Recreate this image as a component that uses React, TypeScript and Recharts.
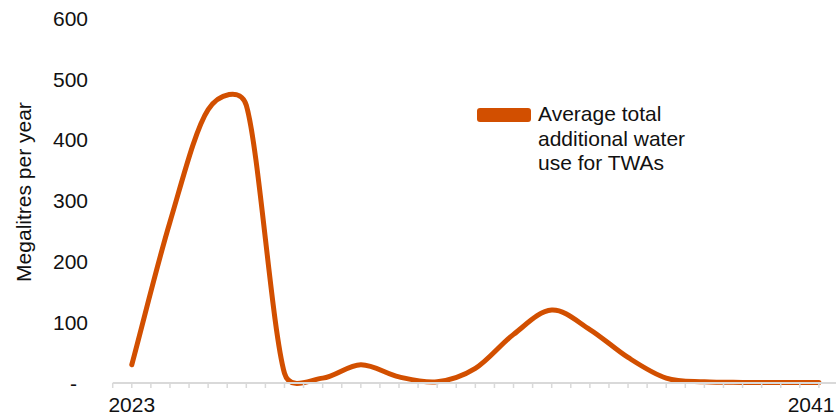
import React from 'react';
import { LineChart, Line, XAxis, YAxis, Legend } from 'recharts';

const years = [2023, 2024, 2025, 2026, 2027, 2028, 2029, 2030, 2031, 2032, 2033, 2034, 2035, 2036, 2037, 2038, 2039, 2040, 2041];
const waterUse = [30, 265, 450, 457, 16, 8, 30, 10, 2, 24, 80, 120, 88, 42, 8, 2, 1, 1, 1];
const yTicks = [0, 100, 200, 300, 400, 500, 600];
const xTicks = [2022.5, 2023, 2023.5, 2024, 2024.5, 2025, 2025.5, 2026, 2026.5, 2027, 2027.5, 2028, 2028.5, 2029, 2029.5, 2030, 2030.5, 2031, 2031.5, 2032, 2032.5, 2033, 2033.5, 2034, 2034.5, 2035, 2035.5, 2036, 2036.5, 2037, 2037.5, 2038, 2038.5, 2039, 2039.5, 2040, 2040.5, 2041, 2041.5];
const labelledYears = [2023, 2041];
const seriesName = 'Average total additional water use for TWAs';
const legendLines = ['Average total', 'additional water', 'use for TWAs'];
const yTitle = 'Megalitres per year';

const data = years.map((y, i) => ({ year: y, value: waterUse[i] }));

const FONT = '"Liberation Sans", Arial, sans-serif';
const COLOR = '#D24F00';

function excelSmooth(context: any) {
  let pts: number[][] = [];
  const dist = (a: number[], b: number[]) => Math.hypot(a[0] - b[0], a[1] - b[1]);
  return {
    areaStart() {},
    areaEnd() {},
    lineStart() { pts = []; },
    point(x: number, y: number) { pts.push([+x, +y]); },
    lineEnd() {
      const n = pts.length;
      if (!n) return;
      context.moveTo(pts[0][0], pts[0][1]);
      for (let i = 0; i < n - 1; i++) {
        const p1 = pts[i];
        const p2 = pts[i + 1];
        const first = i === 0;
        const last = i + 2 > n - 1;
        const p0 = first ? p1 : pts[i - 1];
        const p3 = last ? p2 : pts[i + 2];
        const d12 = dist(p1, p2);
        const d02 = dist(p0, p2);
        const d13 = dist(p1, p3);
        let f = first ? 1 / 3 : 1 / 6;
        let g = last ? 1 / 3 : 1 / 6;
        if (d02 > 0 && d02 * f > d12 / 2) f = d12 / (2 * d02);
        if (d13 > 0 && d13 * g > d12 / 2) g = d12 / (2 * d13);
        const c1x = p1[0] + (p2[0] - p0[0]) * f;
        const c1y = p1[1] + (p2[1] - p0[1]) * f;
        const c2x = p2[0] - (p3[0] - p1[0]) * g;
        const c2y = p2[1] - (p3[1] - p1[1]) * g;
        context.bezierCurveTo(c1x, c1y, c2x, c2y, p2[0], p2[1]);
      }
    },
  };
}

const YTick = (props: any) => {
  const { y, payload } = props;
  const v = payload.value;
  if (v === 0) {
    return <text x={77} y={y + 7.5} textAnchor="end" fontSize={21} fontFamily={FONT} fill="#111">-</text>;
  }
  return <text x={88} y={y + 7.5} textAnchor="end" fontSize={21} fontFamily={FONT} fill="#111">{v}</text>;
};

const XTick = (props: any) => {
  const { x, payload } = props;
  if (!labelledYears.includes(payload.value)) return <g />;
  const cx = Math.min(x, 811);
  return <text x={cx} y={412} textAnchor="middle" fontSize={21} fontFamily={FONT} fill="#111">{payload.value}</text>;
};

const YTitle = () => (
  <text x={31} y={192} transform="rotate(-90, 31, 192)" textAnchor="middle" fontSize={21} fontFamily={FONT} fill="#111">{yTitle}</text>
);

const LegendContent = () => (
  <div style={{ display: 'flex', alignItems: 'flex-start', fontFamily: FONT, fontSize: 21, lineHeight: '24.6px', color: '#111' }}>
    <div style={{ width: 54, height: 14, background: COLOR, borderRadius: 3, marginTop: 6, marginRight: 7 }} />
    <div>
      {legendLines.map((l) => <div key={l} style={{ whiteSpace: 'nowrap' }}>{l}</div>)}
    </div>
  </div>
);

export default function App() {
  return (
    <div style={{ position: 'absolute', left: 0, top: 0, width: 836, height: 416, overflow: 'hidden', background: '#fff' }}>
      <LineChart width={840} height={416} data={data} margin={{ top: 18.4, right: 2, bottom: 0, left: 0 }}>
        <XAxis
          dataKey="year"
          type="number"
          domain={[2022.5, 2041.5]}
          ticks={xTicks}
          interval={0}
          height={33}
          tick={<XTick />}
          tickSize={5}
          axisLine={{ stroke: '#d9d9d9', strokeWidth: 2 }}
          tickLine={{ stroke: '#d9d9d9', strokeWidth: 1.5 }}
        />
        <YAxis
          type="number"
          domain={[0, 600]}
          ticks={yTicks}
          interval={0}
          width={112.7}
          axisLine={false}
          tickLine={false}
          tick={<YTick />}
          label={<YTitle />}
        />
        <Legend
          layout="vertical"
          align="center"
          verticalAlign="middle"
          wrapperStyle={{ left: 477, top: 102, width: 260 }}
          content={<LegendContent />}
        />
        <Line
          dataKey="value"
          name={seriesName}
          type={excelSmooth as any}
          stroke={COLOR}
          strokeWidth={5}
          strokeLinecap="round"
          strokeLinejoin="round"
          dot={false}
          activeDot={false}
          isAnimationActive={false}
        />
      </LineChart>
    </div>
  );
}
